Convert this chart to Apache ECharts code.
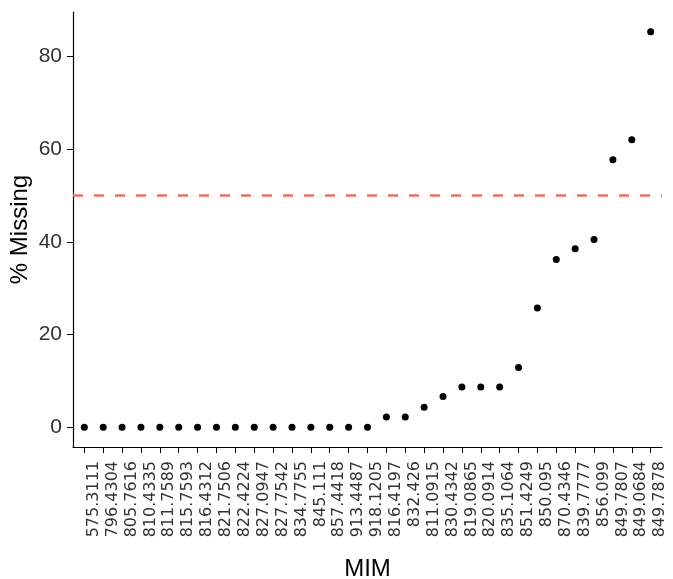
<!DOCTYPE html>
<html>
<head>
<meta charset="utf-8">
<script src="https://cdn.jsdelivr.net/npm/echarts@6/dist/echarts.min.js"></script>
<style>html,body{margin:0;padding:0;background:#fff;}#c{width:673px;height:579px;}</style>
</head>
<body>
<div id="c"></div>
<script>
const categories = ['575.3111','796.4304','805.7616','810.4335','811.7589','815.7593','816.4312','821.7506','822.4224','827.0947','827.7542','834.7755','845.111','857.4418','913.4487','918.1205','816.4197','832.426','811.0915','830.4342','819.0865','820.0914','835.1064','851.4249','850.095','870.4346','839.7777','856.099','849.7807','849.0684','849.7878'];
const pctMissing = [0,0,0,0,0,0,0,0,0,0,0,0,0,0,0,0,2.2,2.2,4.3,6.6,8.7,8.7,8.7,12.9,25.7,36.2,38.5,40.5,57.7,62.0,85.3];
const yTicks = [0,20,40,60,80];
const threshold = 50;

const xIdx = categories.map((c,i)=>i);
const chart = echarts.init(document.getElementById('c'));
chart.setOption({
  animation:false,
  backgroundColor:'#fff',
  grid:{left:73,right:11,top:12,bottom:132,containLabel:false,outerBoundsMode:'none'},
  xAxis:{
    type:'value', min:-0.6, max:categories.length-0.4,
    name:'MIM', nameLocation:'middle', nameGap:110, nameMoveOverlap:false,
    nameTextStyle:{fontFamily:'Liberation Sans',fontSize:24,color:'#000',verticalAlign:'top'},
    axisLine:{show:true,onZero:false,lineStyle:{color:'#000',width:1.2}},
    axisTick:{show:true,length:6,lineStyle:{color:'#000',width:1},customValues:xIdx},
    axisLabel:{customValues:xIdx,rotate:90,margin:14,fontFamily:'DejaVu Sans',fontSize:16,color:'#333',
      verticalAlign:'top',lineHeight:19,showMinLabel:true,showMaxLabel:true,hideOverlap:false,
      formatter:v=>categories[v]||''},
    splitLine:{show:false}
  },
  yAxis:{
    type:'value', min:-4.27, max:89.57,
    name:'% Missing', nameLocation:'middle', nameGap:41, nameRotate:90, nameMoveOverlap:false,
    nameTextStyle:{fontFamily:'Liberation Sans',fontSize:24,color:'#000'},
    axisLine:{show:true,onZero:false,lineStyle:{color:'#000',width:1.2}},
    axisTick:{show:true,length:6,lineStyle:{color:'#000',width:1},customValues:yTicks},
    axisLabel:{customValues:yTicks,margin:11,fontFamily:'Liberation Sans',fontSize:21,color:'#333'},
    splitLine:{show:false}
  },
  series:[{
    type:'scatter',
    data:pctMissing.map((v,i)=>[i,v]),
    symbolSize:7,
    itemStyle:{color:'#000',opacity:1},
    markLine:{
      silent:true, symbol:['none','none'], label:{show:false},
      lineStyle:{color:'#E8725C',type:[10,11],width:2.5,opacity:1},
      data:[{yAxis:threshold}]
    }
  }]
});
</script>
</body>
</html>
